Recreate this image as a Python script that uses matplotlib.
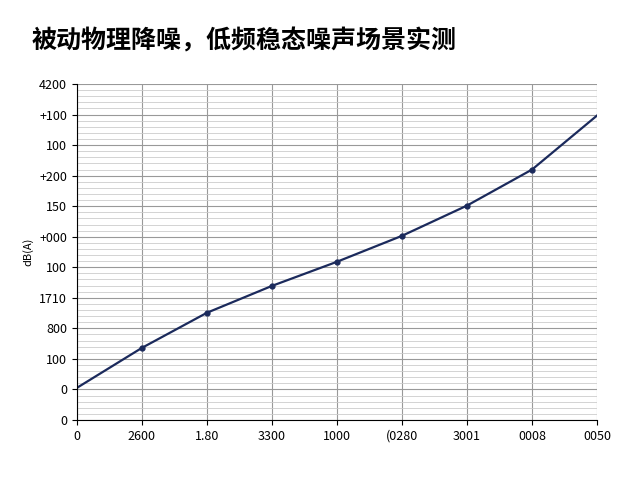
import matplotlib.pyplot as plt
import numpy as np

plt.rcParams['font.family'] = ['Noto Sans CJK SC', 'DejaVu Sans']

title = "被动物理降噪，低频稳态噪声场景实测"
x_labels = ["0", "2600", "1.80", "3300", "1000", "(0280", "3001", "0008", "0050"]
y_labels = ["0", "0", "100", "800", "1710", "100", "+000", "150", "+200", "100", "+100", "4200"]
x_vals = [0, 1, 2, 3, 4, 5, 6, 7, 8]
y_vals = [1.05, 2.36, 3.51, 4.39, 5.18, 6.03, 7.02, 8.2, 9.97]

fig = plt.figure(figsize=(6.4, 4.8), dpi=100)
ax = fig.add_axes([0.12, 0.125, 0.813, 0.70])

ax.plot(x_vals, y_vals, color="#1b2a5c", linewidth=1.6)
ax.plot(x_vals[1:-1], y_vals[1:-1], "o", color="#1b2a5c", markersize=3.5)

ax.set_xlim(0, 8)
ax.set_ylim(0, 11)
ax.set_xticks(x_vals)
ax.set_xticklabels(x_labels, fontsize=9)
ax.set_yticks(range(len(y_labels)))
ax.set_yticklabels(y_labels, fontsize=9)
ax.set_yticks(np.arange(0, 11, 0.2), minor=True)
ax.grid(True, which="major", color="#999999", linewidth=0.8)
ax.grid(True, which="minor", axis="y", color="#cccccc", linewidth=0.6)
ax.tick_params(which="minor", length=0)
for s in ["top", "right"]:
    ax.spines[s].set_visible(False)
ax.set_ylabel("dB(A)", fontsize=8)

fig.text(0.05, 0.9, title, fontsize=18, fontweight="bold")
fig.savefig("out.png")
